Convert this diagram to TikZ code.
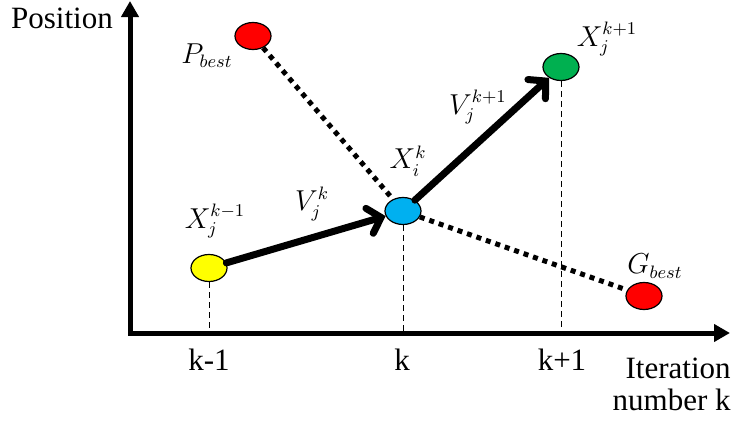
\documentclass[tikz,border=0pt]{standalone}
\usepackage{amsmath}
\usepackage{fontspec}
\setmainfont{Liberation Serif}
\usetikzlibrary{arrows.meta,positioning,shapes.geometric}
\definecolor{ptred}{RGB}{255,0,0}
\definecolor{ptblue}{RGB}{0,176,240}
\definecolor{ptgreen}{RGB}{0,176,80}
\definecolor{ptyellow}{RGB}{255,255,0}

\begin{document}
\begin{tikzpicture}[x=0.5pt, y=-0.5pt,
    pt/.style={ellipse, draw=black, line width=0.6pt, fill=#1, minimum width=18pt, minimum height=13.5pt, inner sep=0pt},
    axis/.style={line width=2.5pt, {Triangle[length=8pt,width=8.5pt]}-{Triangle[length=8pt,width=8.5pt]}},
    move/.style={line width=3.5pt, line cap=round, -{Straight Barb[length=6pt,width=13pt,line cap=round]}},
    pull/.style={line width=2.5pt, dash pattern=on 2.5pt off 2.5pt},
    proj/.style={line width=0.5pt, dash pattern=on 3pt off 2pt},
    txt/.style={font=\fontsize{15.5}{16}\selectfont, inner sep=0pt},
    lbl/.style={font=\fontsize{13.5}{15}\selectfont, inner sep=0pt}
]
\useasboundingbox (0,0) rectangle (735,423);

% axes
\coordinate (ytop) at (130,1);
\coordinate (o) at (130,333);
\coordinate (xend) at (730,333);
\draw[axis] (ytop) -- (o) -- (xend);

\node[txt, anchor=base] (ylab) at (62,28) {Position};
\node[txt, anchor=base east] (xlab) at (731,378) {Iteration};
\node[txt, anchor=base east] (xlab2) at (731,410) {number k};

% particle positions
\node[pt=ptred] (pbest) at (253,36) {};
\node[pt=ptgreen] (xnext) at (561,67) {};
\node[pt=ptblue] (xcur) at (403,211) {};
\node[pt=ptyellow] (xprev) at (209,268) {};
\node[pt=ptred] (gbest) at (644,296) {};

% pull towards the bests
\draw[pull] (pbest) -- (xcur);
\draw[pull] (xcur) -- (gbest);

% velocity steps
\draw[move] (xprev) -- (xcur);
\draw[move] (xcur) -- (xnext);

% projections on the iteration axis
\draw[proj] (xprev.south) -- (xprev.south |- o);
\draw[proj] (xcur.south) -- (xcur.south |- o);
\draw[proj] (xnext.south) -- (xnext.south |- o);

\node[txt, anchor=base] (tprev) at (209,370) {k-1};
\node[txt, anchor=base] (tcur) at (402,370) {k};
\node[txt, anchor=base] (tnext) at (562,370) {k+1};

% labels
\node[lbl] at (207,56) {$P_{best}$};
\node[lbl] at (655,266) {$G_{best}$};
\node[lbl] at (215,221) {$X_j^{k-1}$};
\node[lbl] at (312,204) {$V_j^{k}$};
\node[lbl] at (408,161) {$X_i^{k}$};
\node[lbl] at (478,107) {$V_j^{k+1}$};
\node[lbl] at (607,39) {$X_j^{k+1}$};
\end{tikzpicture}
\end{document}
